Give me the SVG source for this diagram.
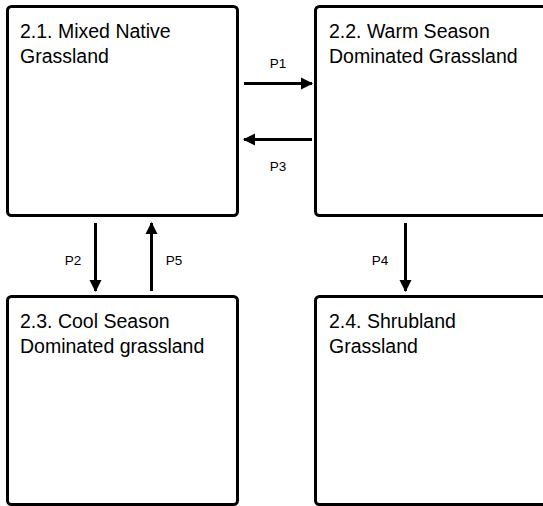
<svg xmlns="http://www.w3.org/2000/svg" width="543" height="506" viewBox="0 0 543 506">
<style>
.box{fill:#fff;stroke:#000;stroke-width:3}
.t{font-family:"Liberation Sans",Arial,sans-serif;font-size:19.5px;fill:#000}
.l{font-family:"Liberation Sans",Arial,sans-serif;font-size:13.5px;fill:#000;text-anchor:middle}
.c{stroke:#000;stroke-width:3;fill:none}
</style>
<defs>
<marker id="ah" viewBox="0 0 12 12" refX="11" refY="6" markerWidth="4" markerHeight="4.3" orient="auto" markerUnits="strokeWidth">
<path d="M0,0 L12,6 L0,12 Z" fill="#000"/>
</marker>
</defs>
<rect width="543" height="506" fill="#fff"/>
<g id="n21"><rect class="box" x="7.5" y="6.5" width="230" height="209" rx="4"/><text class="t" x="20" y="38">2.1. Mixed Native</text><text class="t" x="20" y="63">Grassland</text></g>
<g id="n22"><rect class="box" x="315.5" y="6.5" width="300" height="209" rx="4"/><text class="t" x="329" y="38">2.2. Warm Season</text><text class="t" x="329" y="63">Dominated Grassland</text></g>
<g id="n23"><rect class="box" x="7.5" y="296.5" width="230" height="208" rx="4"/><text class="t" x="20" y="328">2.3. Cool Season</text><text class="t" x="20" y="353">Dominated grassland</text></g>
<g id="n24"><rect class="box" x="315.5" y="296.5" width="300" height="208" rx="4"/><text class="t" x="329" y="328">2.4. Shrubland</text><text class="t" x="329" y="353">Grassland</text></g>
<g id="connectors">
<line class="c" x1="244" y1="83.5" x2="312" y2="83.5" marker-end="url(#ah)"/>
<line class="c" x1="312" y1="139.5" x2="244" y2="139.5" marker-end="url(#ah)"/>
<line class="c" x1="95.5" y1="223" x2="95.5" y2="291" marker-end="url(#ah)"/>
<line class="c" x1="151.5" y1="291" x2="151.5" y2="223" marker-end="url(#ah)"/>
<line class="c" x1="405.5" y1="223" x2="405.5" y2="291" marker-end="url(#ah)"/>
<text class="l" x="278" y="68">P1</text>
<text class="l" x="278" y="171">P3</text>
<text class="l" x="73" y="265">P2</text>
<text class="l" x="174" y="265">P5</text>
<text class="l" x="380" y="265">P4</text>
</g>
</svg>
